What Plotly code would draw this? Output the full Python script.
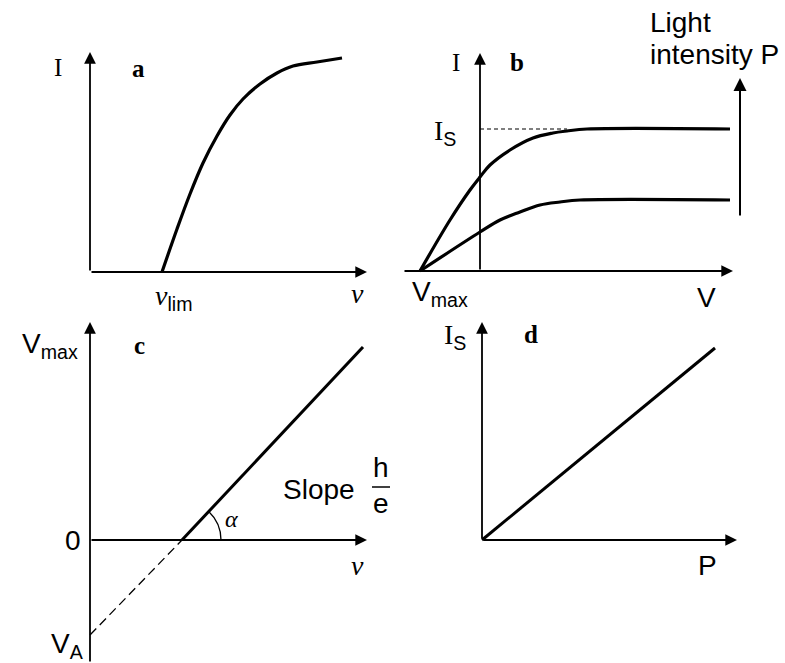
import plotly.graph_objects as go

W, H = 785, 663
PX = 100  # pixels per data unit, same in every panel
SERIF = "Liberation Serif"
SANS = "Liberation Sans"

# panel a: photocurrent I against light frequency nu
a_nu = [0.72, 0.87, 1.00, 1.13, 1.27, 1.40, 1.53, 1.70, 1.87, 2.03, 2.27, 2.52]
a_i = [0.00, 0.43, 0.78, 1.09, 1.36, 1.57, 1.73, 1.88, 1.99, 2.06, 2.10, 2.14]
nu_lim = 0.72

# panel b: current I against voltage V, high and low light intensity
b_v_high = [-0.60, -0.30, -0.10, 0.00, 0.10, 0.30, 0.53, 0.73, 0.87, 1.07, 2.50]
b_i_high = [0.00, 0.51, 0.81, 0.94, 1.06, 1.21, 1.33, 1.38, 1.40, 1.42, 1.42]
b_v_low = [-0.60, 0.00, 0.20, 0.40, 0.60, 0.80, 1.00, 2.50]
b_i_low = [0.00, 0.39, 0.51, 0.59, 0.66, 0.69, 0.71, 0.71]
i_sat = 1.42
v_max = -0.60
v_sat = 0.87

# panel c: stopping voltage against frequency
c_nu = [0.92, 2.73]
c_v = [0.00, 1.93]
c_nu_ext = [0.00, 0.92]
c_v_ext = [-0.95, 0.00]
v_a = -0.95

# panel d: saturation current against light power
d_p = [0.00, 2.33]
d_is = [0.00, 1.92]

# origin of each panel and the pixel box its axes cover (labels included)
panels = {
    "": ((90, 272), (20, 0, 392, 318)),
    "2": ((480, 271), (395, 0, 785, 318)),
    "3": ((90, 540), (0, 318, 400, 663)),
    "4": ((482, 540), (405, 318, 785, 663)),
}

fig = go.Figure()

layout_axes = {}
for k, ((ox, oy), (left, top, right, bottom)) in panels.items():
    layout_axes["xaxis" + k] = dict(
        domain=[left / W, right / W],
        range=[(left - ox) / PX, (right - ox) / PX],
        visible=False, fixedrange=True, anchor="y" + k,
    )
    layout_axes["yaxis" + k] = dict(
        domain=[1 - bottom / H, 1 - top / H],
        range=[(oy - bottom) / PX, (oy - top) / PX],
        visible=False, fixedrange=True, anchor="x" + k,
    )


def curve(k, x, y, width=3.2, dash="solid"):
    fig.add_trace(go.Scatter(
        x=x, y=y, mode="lines", xaxis="x" + k, yaxis="y" + k,
        line=dict(color="black", width=width, dash=dash, shape="spline", smoothing=1.0),
        hoverinfo="skip", showlegend=False,
    ))


curve("", a_nu, a_i)
curve("2", b_v_high, b_i_high)
curve("2", b_v_low, b_i_low)
curve("2", [0, v_sat], [i_sat, i_sat], width=1.1, dash="4px,3px")
curve("3", c_nu, c_v, width=3)
curve("3", c_nu_ext, c_v_ext, width=1.3, dash="9px,5px")
curve("4", d_p, d_is, width=3)

annotations = []


def arrow(k, x0, y0, x1, y1, width=1.8):
    xr, yr = "x" + k, "y" + k
    annotations.append(dict(
        x=x1, y=y1, ax=x0, ay=y0, xref=xr, yref=yr, axref=xr, ayref=yr,
        text="", showarrow=True, arrowhead=2, arrowsize=1.3,
        arrowwidth=width, arrowcolor="black", standoff=0,
    ))


def label(k, x, y, text, size=28, family=SANS, **kw):
    annotations.append(dict(
        x=x, y=y, xref="x" + k, yref="y" + k, text=text, showarrow=False,
        font=dict(family=family, size=size, color="black"), **kw,
    ))


serif_i = "<span style='font-family:Liberation Serif'>I</span>"
sans = "<span style='font-family:Liberation Sans'>{}</span>"

# panel a
arrow("", 0, 0, 2.77, 0)
arrow("", 0, 0, 0, 2.2)
label("", -0.32, 2.05, "I", size=25, family=SERIF)
label("", 0.48, 2.04, "<b>a</b>", size=25, family=SERIF)
label("", nu_lim + 0.11, -0.25, "<i>ν</i><sub>" + sans.format("lim") + "</sub>", family=SERIF)
label("", 2.67, -0.21, "<i>ν</i>", family=SERIF)

# panel b
arrow("2", -0.77, 0, 2.53, 0)
arrow("2", 0, 0, 0, 2.18)
arrow("2", 2.6, 0.54, 2.6, 1.93, width=2)
label("2", -0.24, 2.09, "I", size=25, family=SERIF)
label("2", 0.37, 2.09, "<b>b</b>", size=25, family=SERIF)
label("2", -0.35, i_sat - 0.03, serif_i + "<sub>S</sub>")
label("2", v_max + 0.2, -0.22, "V<sub>max</sub>")
label("2", 2.26, -0.26, "V")
label("2", 1.68, 2.49, "Light", xanchor="left")
label("2", 1.68, 2.17, "intensity P", xanchor="left")

# panel c
arrow("3", 0, 0, 2.77, 0)
arrow("3", 0, -1.23, 0, 2.18)
label("3", -0.4, 1.95, "V<sub>max</sub>")
label("3", 0.49, 1.95, "<b>c</b>", size=25, family=SERIF)
label("3", -0.17, 0, "0")
label("3", -0.23, v_a - 0.1, "V<sub>A</sub>")
label("3", 2.67, -0.25, "<i>ν</i>", family=SERIF)
label("3", 2.285, 0.51, "Slope")
label("3", 2.905, 0.73, "h")
label("3", 2.91, 0.37, "e")
label("3", 1.41, 0.21, "<i>α</i>", size=24, family=SERIF)

# panel d
arrow("4", 0, 0, 2.55, 0)
arrow("4", 0, 0, 0, 2.18)
label("4", -0.27, 2.04, serif_i + "<sub>S</sub>")
label("4", 0.49, 2.06, "<b>d</b>", size=25, family=SERIF)
label("4", 2.25, -0.25, "P")

shapes = [
    # fraction bar of h/e
    dict(type="line", xref="x3", yref="y3", x0=2.82, x1=3.0, y0=0.53, y1=0.53,
         line=dict(color="black", width=1.5)),
    # angle arc alpha
    dict(type="path", xref="x3", yref="y3",
         path="M 1.31 0 Q 1.31 0.169 1.187 0.285",
         line=dict(color="black", width=1.3)),
]

fig.update_layout(
    width=W, height=H, autosize=False,
    margin=dict(l=0, r=0, t=0, b=0, pad=0),
    paper_bgcolor="white", plot_bgcolor="rgba(0,0,0,0)",
    annotations=annotations, shapes=shapes,
    showlegend=False,
    **layout_axes,
)

fig.write_html(
    "out.html",
    config={"displayModeBar": False, "staticPlot": True},
    post_script="document.body.style.margin = '0';",
)
